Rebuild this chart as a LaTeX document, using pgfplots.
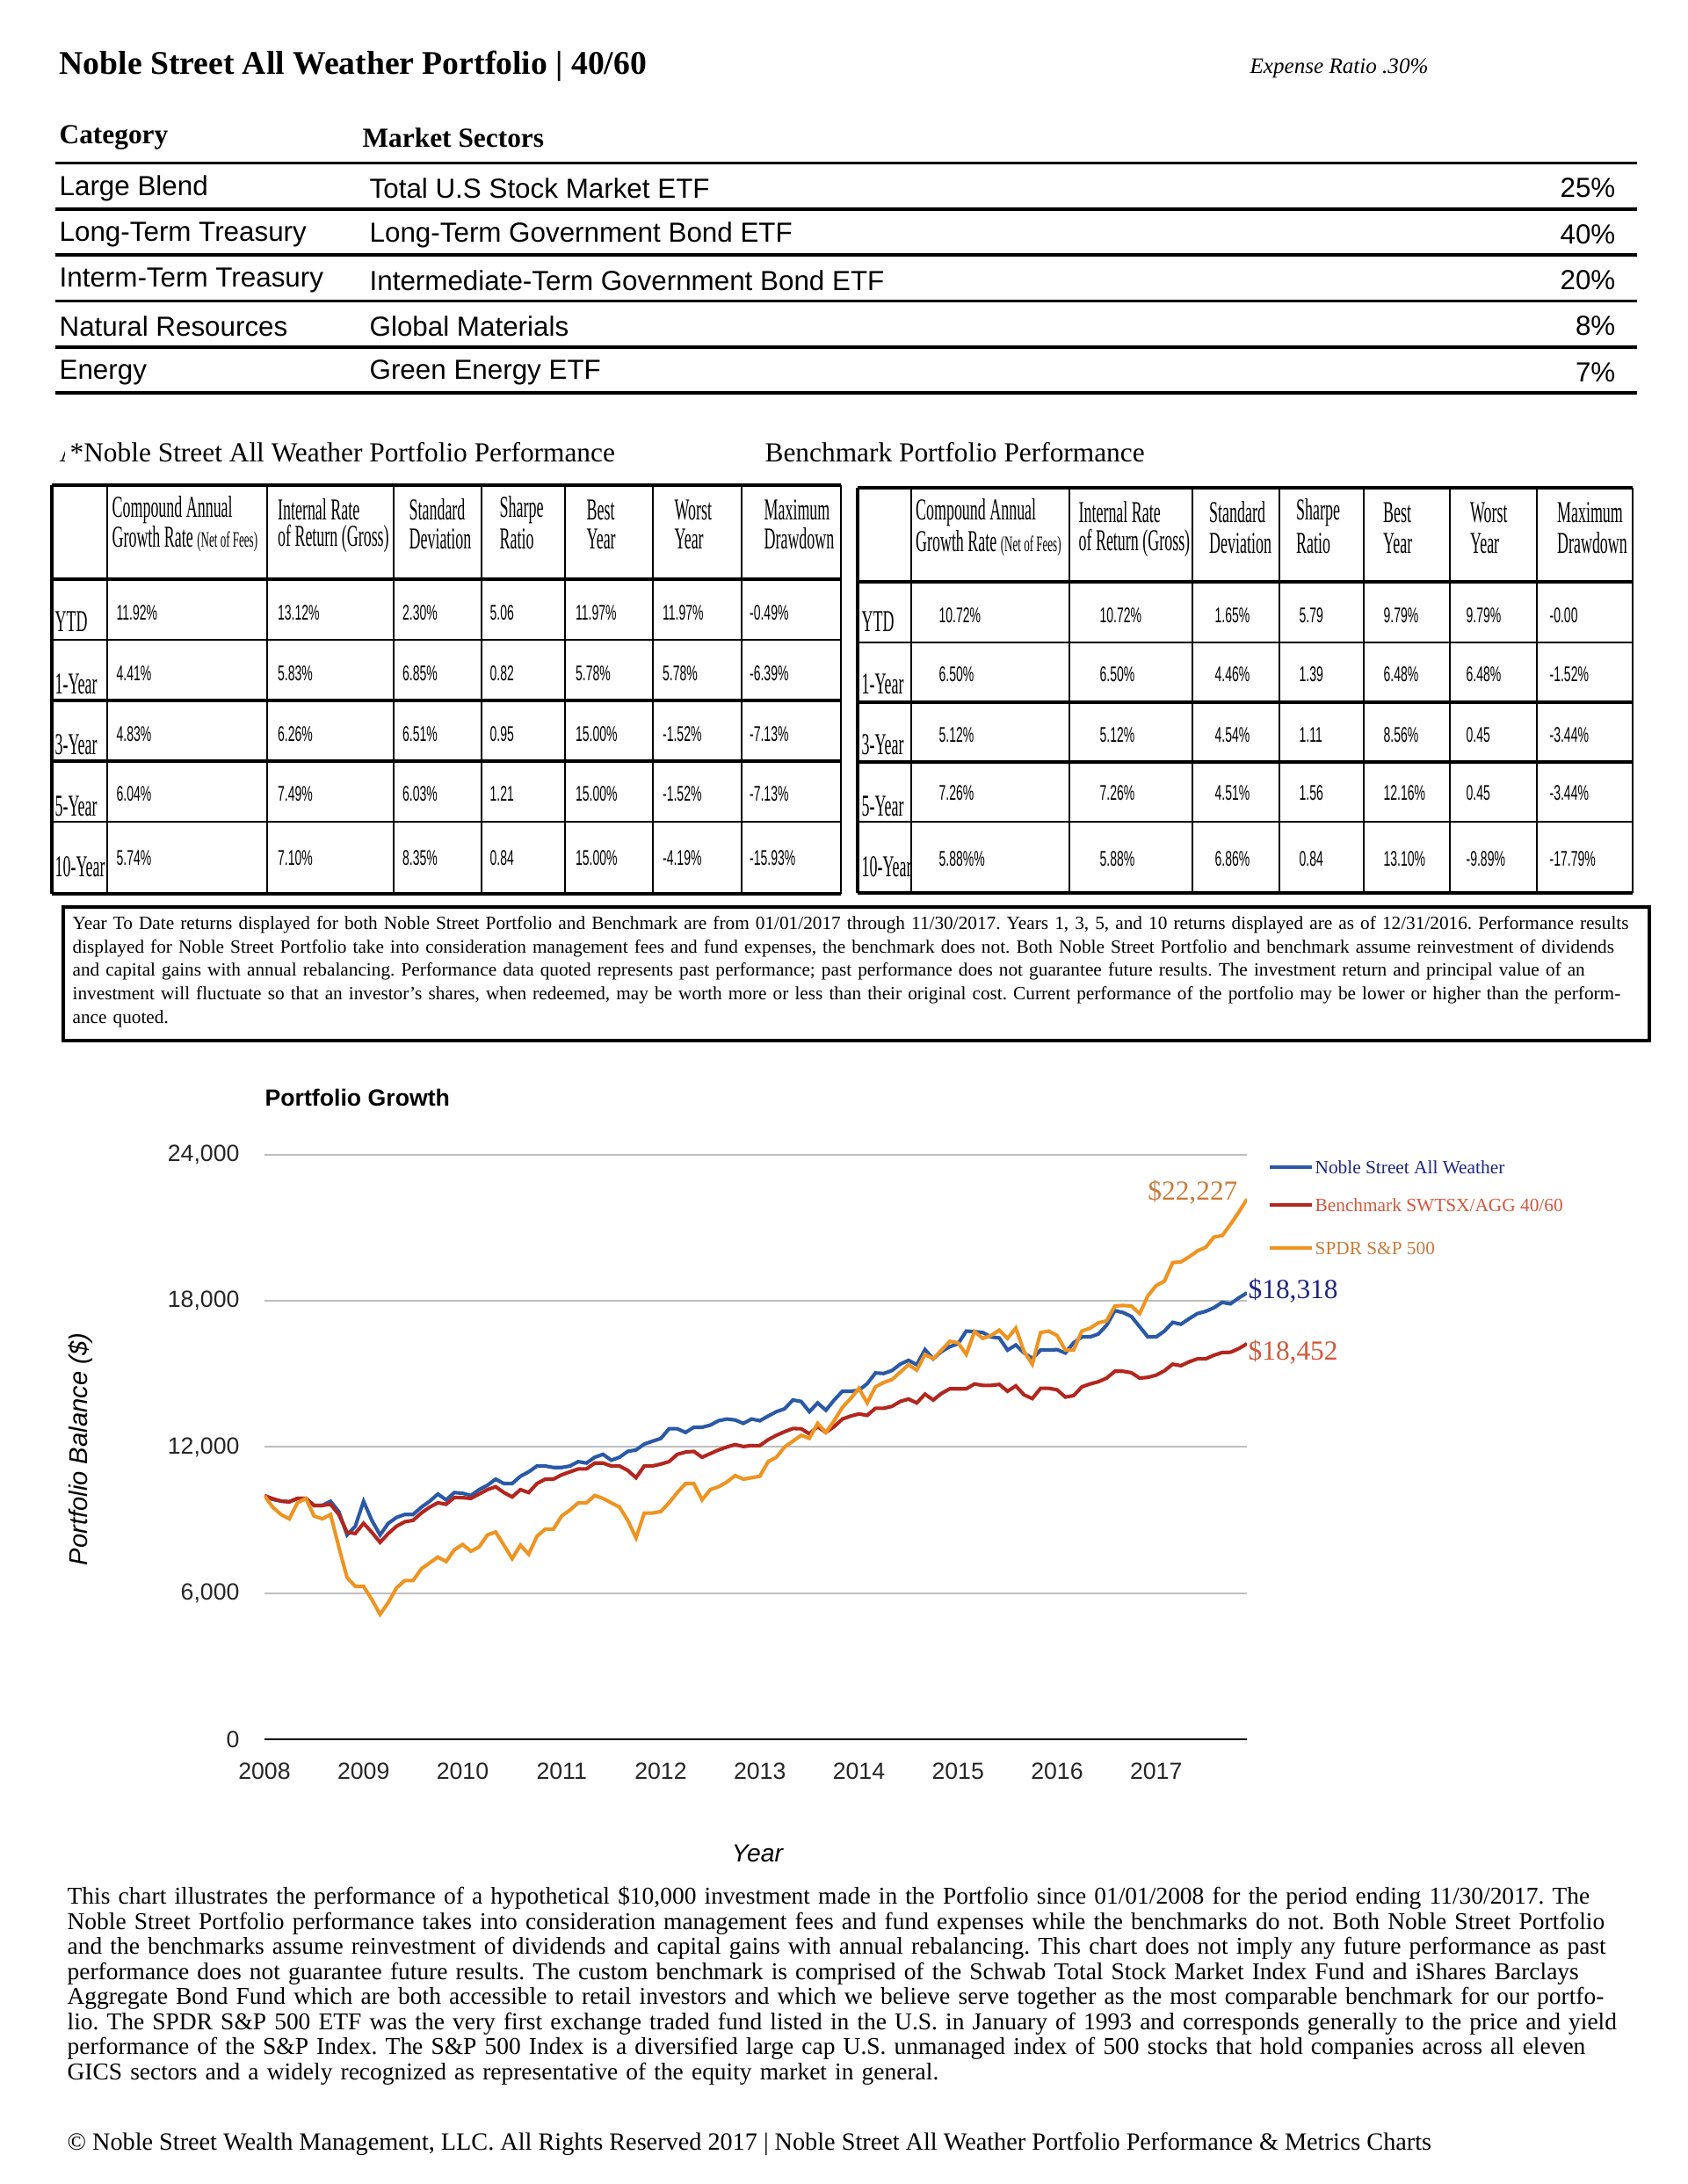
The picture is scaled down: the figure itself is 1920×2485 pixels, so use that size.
\documentclass[border=0pt]{standalone}
\usepackage{pgfplots}
\pgfplotsset{compat=1.18}
\usepackage{pgfplotstable}
\usepackage{fontspec}
\setmainfont{Liberation Serif}
\setsansfont{Liberation Sans}
\newfontfamily\cserif{Liberation Serif}[FakeStretch=0.52]
\newfontfamily\csans{Liberation Sans}[FakeStretch=0.58]
\frenchspacing

\definecolor{nsblue}{HTML}{2A59A6}
\definecolor{bmred}{HTML}{B3261E}
\definecolor{spyorange}{HTML}{EE9422}
\definecolor{gridgray}{HTML}{BEBEBE}
\definecolor{navytxt}{HTML}{1C2580}
\definecolor{redtxt}{HTML}{D2573A}
\definecolor{orangetxt}{HTML}{C97C3A}

% month index (0 = Jan 2008), growth of $10,000
\pgfplotstableread{
m nsaw bench spy
0 10000 10000 10000
1 9850 9880 9530
2 9780 9780 9230
3 9750 9750 9050
4 9890 9890 9710
5 9890 9890 9890
6 9600 9600 9170
7 9600 9600 9050
8 9770 9650 9230
9 9350 9230 7900
10 8390 8500 6640
11 8750 8450 6280
12 9770 8870 6280
13 8990 8500 5740
14 8390 8085 5130
15 8870 8450 5620
16 9110 8750 6220
17 9230 8930 6520
18 9230 8990 6520
19 9530 9290 7000
20 9770 9530 7240
21 10070 9710 7480
22 9830 9650 7300
23 10130 9930 7780
24 10100 9920 8000
25 10010 9890 7720
26 10250 10070 7900
27 10430 10250 8390
28 10680 10370 8510
29 10500 10130 7970
30 10500 9950 7420
31 10800 10250 7970
32 10980 10130 7600
33 11220 10500 8330
34 11220 10680 8630
35 11160 10680 8630
36 11160 10860 9170
37 11220 10980 9410
38 11400 11100 9710
39 11340 11100 9710
40 11580 11340 10010
41 11700 11340 9890
42 11460 11220 9710
43 11580 11220 9530
44 11820 11040 8990
45 11880 10740 8270
46 12120 11220 9290
47 12240 11220 9290
48 12350 11300 9350
49 12750 11400 9710
50 12750 11700 10130
51 12600 11790 10500
52 12810 11820 10500
53 12810 11580 9830
54 12900 11730 10250
55 13080 11880 10370
56 13150 12000 10560
57 13110 12100 10830
58 12970 12020 10680
59 13150 12060 10740
60 13080 12060 10800
61 13270 12300 11400
62 13450 12480 11580
63 13570 12630 12000
64 13930 12760 12240
65 13870 12750 12480
66 13450 12540 12360
67 13810 12840 12970
68 13510 12600 12600
69 13930 12840 13080
70 14290 13150 13630
71 14290 13270 13990
72 14330 13360 14410
73 14600 13300 13810
74 15040 13590 14470
75 15020 13590 14650
76 15140 13670 14770
77 15400 13870 15070
78 15560 13970 15380
79 15380 13810 15160
80 16000 14170 15800
81 15620 13930 15620
82 15920 14200 15980
83 16120 14390 16340
84 16240 14390 16280
85 16760 14390 15800
86 16740 14590 16740
87 16700 14530 16460
88 16520 14530 16580
89 16480 14570 16800
90 15980 14290 16460
91 16190 14510 16880
92 15860 14140 15920
93 15640 13990 15400
94 15980 14410 16700
95 15980 14410 16760
96 16000 14350 16580
97 15860 14050 15980
98 16280 14110 15980
99 16520 14470 16760
100 16520 14590 16880
101 16640 14680 17100
102 17000 14830 17180
103 17600 15110 17790
104 17520 15110 17810
105 17360 15050 17790
106 16940 14830 17480
107 16520 14860 18210
108 16520 14950 18630
109 16760 15130 18810
110 17120 15400 19570
111 17040 15340 19600
112 17270 15500 19810
113 17480 15620 20050
114 17570 15620 20200
115 17720 15770 20620
116 17940 15880 20680
117 17880 15890 21140
118 18120 16040 21640
119 18330 16240 22180
}\growth

\def\lcols{{132,315.5,457.5,557,654.5,753.5,852.5}}
\def\rcols{{1068,1251,1382,1478,1574,1668,1763}}
\newcommand\vrow[3]{%
  \foreach \v [count=\i from 0] in {#3} {
    \pgfmathsetmacro\xx{#1[\i]}
    \node[anchor=west,inner sep=0,font=\csans\fontsize{7.7}{9}\selectfont] at (\xx,#2) {\v};
  }}
\newcommand\hd[5]{% x, y1, line 1, y2, line 2
  \node[anchor=west,inner sep=0,font=\cserif\fontsize{11}{11}\selectfont] at (#1,#2) {#3};
  \node[anchor=west,inner sep=0,font=\cserif\fontsize{11}{11}\selectfont] at (#1,#4) {#5};}

\begin{document}
\begin{tikzpicture}
\begin{scope}[x=0.31875pt,y=-0.31875pt]
\useasboundingbox (0,0) rectangle (1920,2485);
\fill[white] (0,0) rectangle (1920,2485);

% header
\node[anchor=west,inner sep=0,font=\bfseries\fontsize{12}{14}\selectfont] at (67,75) {Noble Street All Weather Portfolio | 40/60};
\node[anchor=west,inner sep=0,font=\itshape\fontsize{8}{10}\selectfont] at (1422,78) {Expense Ratio .30\%};

% allocation table
\node[anchor=west,inner sep=0,font=\bfseries\fontsize{10}{12}\selectfont] at (67,157) {Category};
\node[anchor=west,inner sep=0,font=\bfseries\fontsize{10}{12}\selectfont] at (412,157) {Market Sectors};
\foreach \yy in {185.5,238,290,342.5,395,447} \draw[line width=1.1pt] (63,\yy) -- (1863,\yy);
\foreach \yy/\ca/\se/\pc in {214/Large Blend/Total U.S Stock Market ETF/25,
    267/Long-Term Treasury/Long-Term Government Bond ETF/40,
    319/Interm-Term Treasury/Intermediate-Term Government Bond ETF/20,
    371/Natural Resources/Global Materials/8,
    424/Energy/Green Energy ETF/7} {
  \node[anchor=west,inner sep=0,font=\sffamily\fontsize{10}{12}\selectfont] at (67,\yy) {\ca};
  \node[anchor=west,inner sep=0,font=\sffamily\fontsize{10}{12}\selectfont] at (420,\yy) {\se};
  \node[anchor=east,inner sep=0,font=\sffamily\fontsize{10}{12}\selectfont] at (1839,\yy) {\pc\%};
}

% performance titles
\begin{scope}
\clip (60,490) rectangle (73,540);
\node[anchor=west,inner sep=0,font=\fontsize{10}{12}\selectfont] at (67,515) {A};
\end{scope}
\node[anchor=west,inner sep=0,font=\fontsize{10}{12}\selectfont] at (79,515) {*Noble Street All Weather Portfolio Performance};
\node[anchor=west,inner sep=0,font=\fontsize{10}{12}\selectfont] at (870,515) {Benchmark Portfolio Performance};

% left table grid
\foreach \xx in {122,304,448,548,643,743,844,957} \draw[line width=0.45pt] (\xx,552) -- (\xx,1017);
\draw[line width=1pt] (59,552) -- (59,1017);
\foreach \yy/\w in {552/1.1,659/1.1,728/0.7,797/1.1,866/1.1,935/0.7,1017/1.1} \draw[line width=\w pt] (59,\yy) -- (957,\yy);
% right table grid
\foreach \xx in {1037,1217,1357,1456,1552,1650,1749} \draw[line width=0.45pt] (\xx,555) -- (\xx,1016);
\draw[line width=1pt] (976,555) -- (976,1016);
\draw[line width=0.8pt] (1858,555) -- (1858,1016);
\foreach \yy/\w in {555/1.1,662/1.1,731/0.9,799/1.1,867/1.1,935/0.9,1016/1.1} \draw[line width=\w pt] (976,\yy) -- (1858,\yy);

% table headers
\hd{127}{580}{Compound Annual}{613}{Growth Rate {\fontsize{8}{8}\selectfont(Net of Fees)}}
\hd{315.5}{580}{Internal Rate}{613}{of Return (Gross)}
\hd{465}{580}{Standard}{613}{Deviation}
\hd{568}{580}{Sharpe}{613}{Ratio}
\hd{667}{580}{Best}{613}{Year}
\hd{767}{580}{Worst}{613}{Year}
\hd{869}{580}{Maximum}{613}{Drawdown}
\hd{1041.5}{583}{Compound Annual}{618}{Growth Rate {\fontsize{8}{8}\selectfont(Net of Fees)}}
\hd{1227}{583}{Internal Rate}{618}{of Return (Gross)}
\hd{1375.6}{583}{Standard}{618}{Deviation}
\hd{1474.6}{583}{Sharpe}{618}{Ratio}
\hd{1573.6}{583}{Best}{618}{Year}
\hd{1672.5}{583}{Worst}{618}{Year}
\hd{1771.5}{583}{Maximum}{618}{Drawdown}

% row labels
\foreach \yy/\lab in {707/YTD,778/1-Year,847/3-Year,917/5-Year,986/10-Year} {
  \node[anchor=west,inner sep=0,font=\cserif\fontsize{11}{11}\selectfont] at (62,\yy) {\lab};
  \node[anchor=west,inner sep=0,font=\cserif\fontsize{11}{11}\selectfont] at (980,\yy) {\lab};
}

% left table values
\vrow{\lcols}{697}{11.92\%,13.12\%,2.30\%,5.06,11.97\%,11.97\%,-0.49\%}
\vrow{\lcols}{766}{4.41\%,5.83\%,6.85\%,0.82,5.78\%,5.78\%,-6.39\%}
\vrow{\lcols}{835}{4.83\%,6.26\%,6.51\%,0.95,15.00\%,-1.52\%,-7.13\%}
\vrow{\lcols}{903}{6.04\%,7.49\%,6.03\%,1.21,15.00\%,-1.52\%,-7.13\%}
\vrow{\lcols}{976}{5.74\%,7.10\%,8.35\%,0.84,15.00\%,-4.19\%,-15.93\%}
% right table values
\vrow{\rcols}{700}{10.72\%,10.72\%,1.65\%,5.79,9.79\%,9.79\%,-0.00}
\vrow{\rcols}{767}{6.50\%,6.50\%,4.46\%,1.39,6.48\%,6.48\%,-1.52\%}
\vrow{\rcols}{836}{5.12\%,5.12\%,4.54\%,1.11,8.56\%,0.45,-3.44\%}
\vrow{\rcols}{902}{7.26\%,7.26\%,4.51\%,1.56,12.16\%,0.45,-3.44\%}
\vrow{\rcols}{977}{5.88\%\%,5.88\%,6.86\%,0.84,13.10\%,-9.89\%,-17.79\%}

% disclaimer box
\draw[line width=1.3pt] (72,1032) rectangle (1877,1184);
\node[anchor=north west,inner sep=0,text width=580pt,align=left,font=\fontsize{6.78}{8.5}\selectfont] at (82,1042) {Year To Date returns displayed for both Noble Street Portfolio and Benchmark are from 01/01/2017 through 11/30/2017. Years 1, 3, 5, and 10 returns displayed are as of 12/31/2016. Performance results\\
displayed for Noble Street Portfolio take into consideration management fees and fund expenses, the benchmark does not. Both Noble Street Portfolio and benchmark assume reinvestment of dividends\\
and capital gains with annual rebalancing. Performance data quoted represents past performance; past performance does not guarantee future results. The investment return and principal value of an\\
investment will fluctuate so that an investor's shares, when redeemed, may be worth more or less than their original cost. Current performance of the portfolio may be lower or higher than the perform-\\
ance quoted.};

% chart titles and labels
\node[anchor=west,inner sep=0,font=\sffamily\bfseries\fontsize{8.5}{10}\selectfont] at (301,1249) {Portfolio Growth};
\node[rotate=90,inner sep=0,font=\sffamily\itshape\fontsize{9.3}{11}\selectfont] at (92,1649) {Portfolio Balance (\$)};
\node[inner sep=0,font=\sffamily\itshape\fontsize{9}{11}\selectfont] at (862,2109) {Year};

% legend
\foreach \yy/\cl in {1328/nsblue,1371/bmred,1420/spyorange}
  \draw[\cl, line width=1.3pt] (1445,\yy) -- (1493,\yy);
\node[anchor=west,inner sep=0,text=navytxt,font=\fontsize{6.8}{8}\selectfont] at (1496,1328) {Noble Street All Weather};
\node[anchor=west,inner sep=0,text=redtxt,font=\fontsize{6.8}{8}\selectfont] at (1496,1371) {Benchmark SWTSX/AGG 40/60};
\node[anchor=west,inner sep=0,text=orangetxt,font=\fontsize{6.8}{8}\selectfont] at (1496,1420) {SPDR S\&P 500};

% end values
\node[anchor=east,inner sep=0,text=orangetxt,font=\fontsize{10}{12}\selectfont] at (1409,1357) {\$22,227};
\node[anchor=west,inner sep=0,text=navytxt,font=\fontsize{10}{12}\selectfont] at (1420,1469) {\$18,318};
\node[anchor=west,inner sep=0,text=redtxt,font=\fontsize{10}{12}\selectfont] at (1420,1539) {\$18,452};

% footnote
\node[anchor=north west,inner sep=0,text width=580pt,align=left,font=\fontsize{8.75}{9.1}\selectfont] at (76,2146) {This chart illustrates the performance of a hypothetical \$10,000 investment made in the Portfolio since 01/01/2008 for the period ending 11/30/2017. The\\
Noble Street Portfolio performance takes into consideration management fees and fund expenses while the benchmarks do not. Both Noble Street Portfolio\\
and the benchmarks assume reinvestment of dividends and capital gains with annual rebalancing. This chart does not imply any future performance as past\\
performance does not guarantee future results. The custom benchmark is comprised of the Schwab Total Stock Market Index Fund and iShares Barclays\\
Aggregate Bond Fund which are both accessible to retail investors and which we believe serve together as the most comparable benchmark for our portfo-\\
lio. The SPDR S\&P 500 ETF was the very first exchange traded fund listed in the U.S. in January of 1993 and corresponds generally to the price and yield\\
performance of the S\&P Index. The S\&P 500 Index is a diversified large cap U.S. unmanaged index of 500 stocks that hold companies across all eleven\\
GICS sectors and a widely recognized as representative of the equity market in general.};
\node[anchor=west,inner sep=0,font=\fontsize{9}{11}\selectfont] at (76,2440) {© Noble Street Wealth Management, LLC. All Rights Reserved 2017 | Noble Street All Weather Portfolio Performance \& Metrics Charts};
\end{scope}

% chart: plot area from px (301,1314) to (1419,1979), 1 px = 0.31875pt
\begin{axis}[
    at={(95.944pt,-630.81pt)}, anchor=south west,
    scale only axis, width=356.4pt, height=212pt,
    xmin=0, xmax=119, ymin=0, ymax=24000,
    axis lines*=left,
    y axis line style={draw=none},
    x axis line style={black, line width=0.7pt},
    tick style={draw=none},
    ymajorgrids,
    grid style={gridgray, line width=0.65pt},
    xtick={0,12,24,36,48,60,72,84,96,108},
    xticklabels={2008,2009,2010,2011,2012,2013,2014,2015,2016,2017},
    ytick={0,6000,12000,18000,24000},
    /pgf/number format/assume math mode=true,
    /pgf/number format/1000 sep={,},
    scaled y ticks=false,
    tick label style={font=\sffamily\fontsize{8.5}{10}\selectfont, text=black!85},
    xticklabel style={inner sep=0pt, anchor=north, yshift=-8.5pt},
    yticklabel style={inner sep=0pt, anchor=east, xshift=-8.9pt},
]
\addplot[nsblue, line width=1.3pt] table[x=m, y=nsaw] {\growth};
\addplot[bmred, line width=1.3pt] table[x=m, y=bench] {\growth};
\addplot[spyorange, line width=1.3pt] table[x=m, y=spy] {\growth};
\end{axis}
\end{tikzpicture}
\end{document}
